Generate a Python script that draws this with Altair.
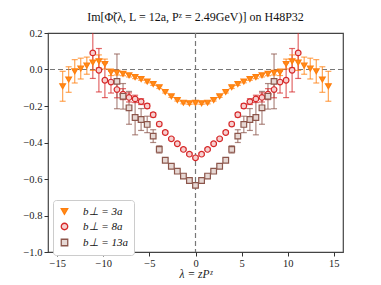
import altair as alt
import pandas as pd

# lambda = z P^z grid (positive side; chart is mirrored)
lam_pos = [0.00, 0.66, 1.31, 1.97, 2.62, 3.28, 3.93, 4.59, 5.24, 5.90, 6.55, 7.21,
           7.86, 8.52, 9.17, 9.83, 10.48, 11.14, 11.79, 12.45, 13.10, 13.76, 14.41]

series = ["b\u22a5 = 3a", "b\u22a5 = 8a", "b\u22a5 = 13a"]

im_3a = [-0.183, -0.185, -0.182, -0.167, -0.147, -0.123, -0.097, -0.080, -0.066, -0.052,
         -0.042, -0.032, -0.024, -0.018, -0.015, 0.030, 0.045, 0.038, 0.021, 0.005,
         -0.010, -0.055, -0.092]
err_3a = [0.006, 0.006, 0.006, 0.006, 0.006, 0.006, 0.007, 0.007, 0.007, 0.007,
          0.008, 0.009, 0.010, 0.012, 0.018, 0.027, 0.035, 0.043, 0.047, 0.057,
          0.064, 0.070, 0.082]

im_8a = [-0.484, -0.464, -0.438, -0.407, -0.380, -0.345, -0.299, -0.248, -0.200, -0.176,
         -0.161, -0.153, -0.135, -0.110, -0.069, -0.059, -0.004, 0.091]
err_8a = [0.007, 0.007, 0.007, 0.007, 0.007, 0.008, 0.010, 0.012, 0.013, 0.016,
          0.020, 0.025, 0.030, 0.045, 0.060, 0.095, 0.119, 0.140]

im_13a = [-0.635, -0.608, -0.584, -0.557, -0.530, -0.497, -0.438, -0.365, -0.301, -0.274,
          -0.263, -0.210, -0.147, -0.065]
err_13a = [0.008, 0.008, 0.008, 0.008, 0.009, 0.010, 0.020, 0.035, 0.045, 0.060,
           0.095, 0.090, 0.070, 0.150]

x_ticks = [-15, -10, -5, 0, 5, 10, 15]
y_ticks = [0.2, 0.0, -0.2, -0.4, -0.6, -0.8, -1.0]

rows = []
for name, vals, errs in [(series[0], im_3a, err_3a), (series[1], im_8a, err_8a),
                         (series[2], im_13a, err_13a)]:
    for i, (v, e) in enumerate(zip(vals, errs)):
        lams = [lam_pos[i]] if i == 0 else [lam_pos[i], -lam_pos[i]]
        for l in lams:
            rows.append({"lam": l, "val": v, "lo": v - e, "hi": v + e, "b": name})
df = pd.DataFrame(rows)

stroke_colors = ["#ff7f0e", "#d62728", "#8c564b"]
fill_colors = ["#ff8c1a", "#f6d0d0", "#e6d8d4"]
shapes = ["triangle-down", "circle", "square"]

font = "Liberation Serif"
xtitle = "\u03bb = zP\u1dbb"
xscale = alt.Scale(domain=[-16, 16], nice=False, zero=False)
yscale = alt.Scale(domain=[-1.0, 0.2], nice=False, zero=False)

xaxis = alt.Axis(values=x_ticks, format="d", title=xtitle, grid=False, domain=False,
                 tickSize=4, tickColor="#333", labelFont=font, labelFontSize=10.5,
                 labelColor="#222", titleFont=font, titleFontSize=11.5,
                 titleFontWeight="normal", titleFontStyle="italic", titleColor="#222",
                 titlePadding=0, labelPadding=2, labelOverlap=False)
yaxis = alt.Axis(values=y_ticks, format=".1f", title=None, grid=False, domain=False,
                 tickSize=4, tickColor="#333", labelFont=font, labelFontSize=10.5,
                 labelColor="#222", labelPadding=2, labelOverlap=False)


def X(field):
    return alt.X(field, scale=xscale, axis=xaxis, title=xtitle)


def Y(field):
    return alt.Y(field, scale=yscale, axis=yaxis, title=None)


legend = alt.Legend(title=None, orient="none", legendX=5, legendY=167,
                    labelFont=font, labelFontSize=11, labelFontStyle="italic",
                    labelColor="#111", symbolSize=42, symbolStrokeWidth=1.3,
                    labelOffset=13, rowPadding=3, padding=6, cornerRadius=3,
                    strokeColor="#cccccc", fillColor="white", symbolOpacity=1)

stroke_enc = alt.Stroke("b:N", scale=alt.Scale(domain=series, range=stroke_colors),
                        legend=legend, sort=series)

base = alt.Chart(df)

bars = base.mark_rule(strokeWidth=1.2, opacity=0.7, clip=True).encode(
    x=X("lam:Q"), y=Y("lo:Q"), y2="hi:Q", stroke=stroke_enc)
caps_lo = base.mark_rule(strokeWidth=1.2, opacity=0.7, clip=True,
                         xOffset=-3, x2Offset=3).encode(
    x=X("lam:Q"), x2="lam:Q", y=Y("lo:Q"), stroke=stroke_enc)
caps_hi = base.mark_rule(strokeWidth=1.2, opacity=0.7, clip=True,
                         xOffset=-3, x2Offset=3).encode(
    x=X("lam:Q"), x2="lam:Q", y=Y("hi:Q"), stroke=stroke_enc)

points = base.mark_point(size=32, strokeWidth=1.2, opacity=1, clip=True).encode(
    x=X("lam:Q"), y=Y("val:Q"),
    stroke=stroke_enc,
    fill=alt.Fill("b:N", scale=alt.Scale(domain=series, range=fill_colors),
                  legend=legend, sort=series),
    shape=alt.Shape("b:N", scale=alt.Scale(domain=series, range=shapes),
                    legend=legend, sort=series),
)

hline = alt.Chart(pd.DataFrame({"y": [0.0]})).mark_rule(
    color="#777", strokeDash=[5, 3], strokeWidth=1.2).encode(y=Y("y:Q"))
vline = alt.Chart(pd.DataFrame({"x": [0.0]})).mark_rule(
    color="#777", strokeDash=[5, 3], strokeWidth=1.2).encode(x=X("x:Q"))

chart = alt.layer(hline, vline, bars, caps_lo, caps_hi, points).properties(
    width=295, height=219,
    title=alt.TitleParams("Im[\u03a6\u0303(\u03bb, L = 12a, P\u1dbb = 2.49GeV)] on H48P32",
                          font=font, fontSize=12, fontWeight="normal", color="#111",
                          offset=4, anchor="middle"),
    autosize=alt.AutoSizeParams(type="none"),
    padding={"left": 40, "top": 25, "right": 20, "bottom": 28},
).configure_view(stroke="#444", strokeWidth=1.2)

chart.save("out.html", embed_options={"renderer": "svg", "actions": False})
